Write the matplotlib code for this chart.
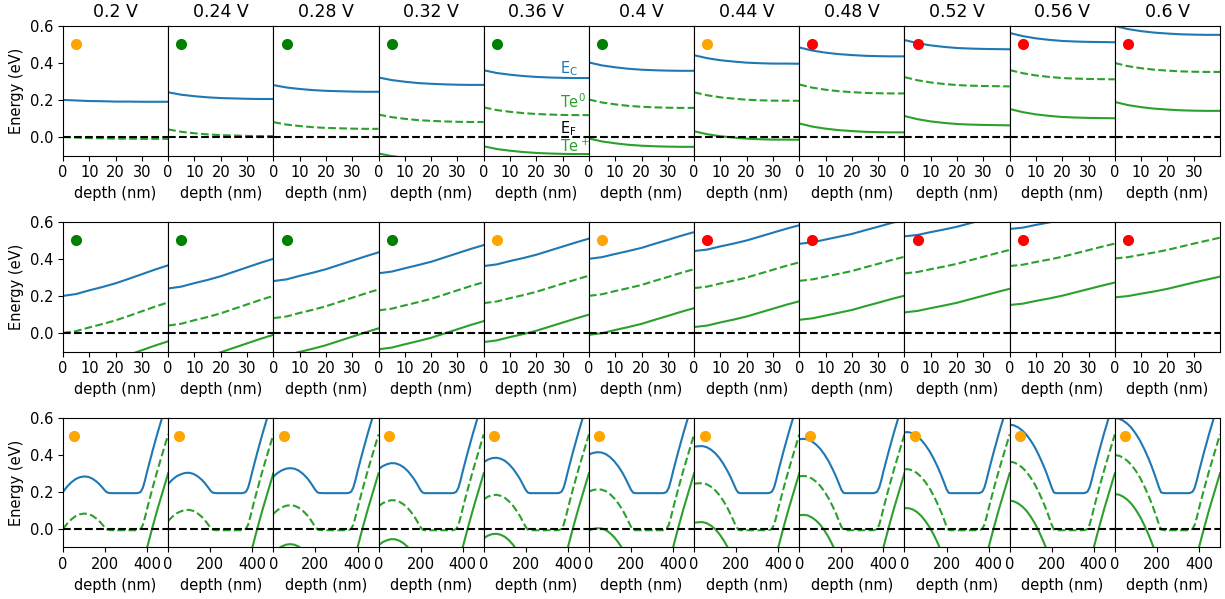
import matplotlib
matplotlib.use('Agg')
import numpy as np
import matplotlib.pyplot as plt

# bias values (panel titles)
biases = ['0.2 V', '0.24 V', '0.28 V', '0.32 V', '0.36 V', '0.4 V',
          '0.44 V', '0.48 V', '0.52 V', '0.56 V', '0.6 V']

# Te levels below the conduction band (eV)
te0_below_ec = 0.20
teplus_below_ec = 0.41

# row 1: near surface, 0-40 nm
depth_near = [0, 5, 10, 15, 20, 25, 30, 35, 40]
ec_row1 = [
    [0.200, 0.197, 0.194, 0.193, 0.191, 0.191, 0.190, 0.190, 0.190],
    [0.241, 0.228, 0.220, 0.214, 0.210, 0.208, 0.206, 0.205, 0.205],
    [0.280, 0.267, 0.259, 0.253, 0.249, 0.247, 0.245, 0.244, 0.244],
    [0.321, 0.307, 0.298, 0.291, 0.287, 0.284, 0.282, 0.281, 0.281],
    [0.360, 0.345, 0.336, 0.329, 0.324, 0.321, 0.319, 0.318, 0.318],
    [0.402, 0.386, 0.376, 0.368, 0.363, 0.360, 0.358, 0.357, 0.357],
    [0.441, 0.425, 0.414, 0.407, 0.401, 0.398, 0.396, 0.396, 0.395],
    [0.483, 0.466, 0.455, 0.447, 0.442, 0.438, 0.436, 0.435, 0.435],
    [0.523, 0.506, 0.494, 0.486, 0.480, 0.477, 0.475, 0.474, 0.473],
    [0.561, 0.544, 0.532, 0.524, 0.518, 0.515, 0.513, 0.512, 0.511],
    [0.599, 0.582, 0.571, 0.563, 0.558, 0.554, 0.552, 0.551, 0.551],
]
dots_row1 = ['orange', 'green', 'green', 'green', 'green', 'green',
             'orange', 'red', 'red', 'red', 'red']

# row 2: 0-40 nm, band rising into the film
ec_row2 = [
    [0.200, 0.210, 0.230, 0.248, 0.268, 0.292, 0.317, 0.342, 0.365],
    [0.240, 0.250, 0.269, 0.286, 0.306, 0.330, 0.354, 0.378, 0.400],
    [0.280, 0.289, 0.308, 0.325, 0.344, 0.367, 0.390, 0.413, 0.435],
    [0.322, 0.331, 0.349, 0.366, 0.384, 0.407, 0.430, 0.453, 0.474],
    [0.361, 0.370, 0.388, 0.404, 0.422, 0.444, 0.466, 0.488, 0.509],
    [0.400, 0.409, 0.426, 0.442, 0.459, 0.481, 0.502, 0.524, 0.544],
    [0.442, 0.450, 0.467, 0.482, 0.499, 0.520, 0.541, 0.562, 0.581],
    [0.481, 0.489, 0.504, 0.519, 0.534, 0.554, 0.573, 0.593, 0.611],
    [0.521, 0.529, 0.544, 0.558, 0.573, 0.592, 0.611, 0.630, 0.648],
    [0.561, 0.568, 0.583, 0.596, 0.611, 0.629, 0.647, 0.665, 0.682],
    [0.602, 0.609, 0.622, 0.634, 0.648, 0.665, 0.682, 0.698, 0.714],
]
dots_row2 = ['green', 'green', 'green', 'green', 'orange', 'orange',
             'red', 'red', 'red', 'red', 'red']

# row 3: whole device, 0-500 nm
depth_front = [0, 20, 40, 60, 80, 100, 120, 140, 160, 175, 190, 200, 210, 220, 235]
ec_front = [
    [0.200, 0.229, 0.252, 0.269, 0.279, 0.283, 0.281, 0.271, 0.255, 0.239, 0.220, 0.206, 0.197, 0.194, 0.193],
    [0.243, 0.266, 0.284, 0.295, 0.302, 0.303, 0.297, 0.284, 0.265, 0.246, 0.224, 0.208, 0.197, 0.194, 0.193],
    [0.282, 0.302, 0.316, 0.325, 0.328, 0.325, 0.315, 0.298, 0.275, 0.253, 0.227, 0.210, 0.197, 0.194, 0.193],
    [0.322, 0.339, 0.349, 0.355, 0.354, 0.346, 0.332, 0.311, 0.283, 0.258, 0.229, 0.209, 0.196, 0.193, 0.193],
    [0.360, 0.374, 0.382, 0.384, 0.379, 0.368, 0.349, 0.324, 0.292, 0.264, 0.231, 0.210, 0.196, 0.193, 0.193],
    [0.402, 0.410, 0.414, 0.412, 0.404, 0.388, 0.366, 0.337, 0.302, 0.270, 0.235, 0.212, 0.196, 0.193, 0.193],
    [0.444, 0.446, 0.447, 0.441, 0.428, 0.409, 0.383, 0.350, 0.310, 0.276, 0.238, 0.212, 0.196, 0.193, 0.193],
    [0.484, 0.486, 0.483, 0.472, 0.455, 0.432, 0.401, 0.364, 0.319, 0.282, 0.240, 0.212, 0.195, 0.193, 0.193],
    [0.522, 0.522, 0.515, 0.501, 0.480, 0.452, 0.418, 0.377, 0.329, 0.289, 0.245, 0.214, 0.195, 0.193, 0.193],
    [0.562, 0.559, 0.548, 0.531, 0.508, 0.477, 0.440, 0.395, 0.344, 0.302, 0.255, 0.223, 0.197, 0.193, 0.193],
    [0.598, 0.595, 0.584, 0.567, 0.544, 0.513, 0.476, 0.431, 0.380, 0.338, 0.291, 0.258, 0.224, 0.197, 0.193],
]
depth_back = [250, 350, 360, 370, 380, 390, 400, 412, 425, 450, 475, 500]
ec_back = [0.193, 0.193, 0.195, 0.201, 0.223, 0.263, 0.310, 0.362, 0.418, 0.520, 0.615, 0.710]
dots_row3 = ['orange'] * 11

fig, axes = plt.subplots(3, 11, figsize=(12.25, 5.99), dpi=100)
fig.subplots_adjust(left=63/1225, right=1220/1225, top=0.957, bottom=0.086,
                    wspace=0, hspace=0.51)

rows = [
    (depth_near, ec_row1, dots_row1, 5, 40, [0, 10, 20, 30]),
    (depth_near, ec_row2, dots_row2, 5, 40, [0, 10, 20, 30]),
    (depth_front + depth_back, [e + ec_back for e in ec_front], dots_row3, 50, 500, [0, 200, 400]),
]

for r, (depth, ec_list, dots, xdot, xmax, xt) in enumerate(rows):
    for c in range(11):
        ax = axes[r, c]
        ec = np.array(ec_list[c])
        ax.plot(depth, ec, color='C0', lw=1.5)
        ax.plot(depth, ec - te0_below_ec, color='C2', ls='--', lw=1.5)
        ax.plot(depth, ec - teplus_below_ec, color='C2', lw=1.5)
        ax.axhline(0, color='k', ls='--', lw=1.5)
        ax.plot([xdot], [0.5], 'o', color=dots[c], ms=7)
        ax.set_xlim(0, xmax)
        ax.set_ylim(-0.1, 0.6)
        ax.set_xticks(xt)
        ax.set_yticks([0.0, 0.2, 0.4, 0.6])
        ax.tick_params(labelsize=10.5)
        ax.set_xlabel('depth (nm)', fontsize=10.5)
        if c == 0:
            ax.set_ylabel('Energy (eV)', fontsize=10.5)
        else:
            ax.tick_params(left=False, labelleft=False)
        if r == 0:
            ax.set_title(biases[c], fontsize=12.5)

# level labels
ax = axes[0, 4]
ax.text(29, 0.37, 'E$_\\mathrm{C}$', color='C0', fontsize=10.5, va='center')
ax.text(29, 0.19, 'Te$^0$', color='C2', fontsize=10.5, va='center')
ax.text(29, 0.045, 'E$_\\mathrm{F}$', color='k', fontsize=10.5, va='center')
ax.text(29, -0.05, 'Te$^+$', color='C2', fontsize=10.5, va='center')

plt.savefig('out.png')
